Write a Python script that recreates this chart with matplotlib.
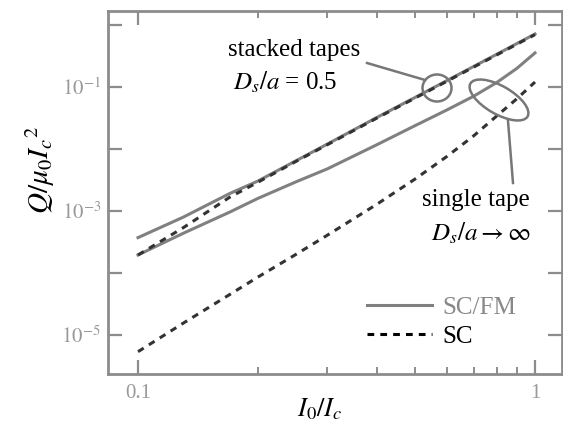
import numpy as np
import matplotlib.pyplot as plt
from matplotlib.patches import Ellipse
from matplotlib.lines import Line2D

plt.rcParams['font.family'] = ['Liberation Serif', 'DejaVu Serif']
plt.rcParams['mathtext.fontset'] = 'stix'

# I0/Ic values along the curves
x = [0.1, 0.13, 0.17, 0.2, 0.25, 0.3, 0.4, 0.5, 0.6, 0.7, 0.8, 0.9, 1.0]

# Q/mu0 Ic^2 (log10 values)
stack_scfm_log = [-3.43, -3.10, -2.72, -2.52, -2.19, -1.92, -1.49, -1.165, -0.897, -0.67, -0.474, -0.30, -0.145]
stack_sc_log = [-3.71, -3.27, -2.78, -2.54, -2.20, -1.93, -1.50, -1.175, -0.907, -0.68, -0.484, -0.31, -0.155]
single_scfm_log = [-3.71, -3.36, -3.02, -2.80, -2.53, -2.32, -1.93, -1.62, -1.37, -1.15, -0.93, -0.70, -0.45]
single_sc_log = [-5.27, -4.81, -4.35, -4.07, -3.70, -3.39, -2.89, -2.48, -2.12, -1.79, -1.47, -1.19, -0.92]

ytick_vals = [1e-5, 1e-4, 1e-3, 1e-2, 1e-1, 1e0]
ytick_labels = ['$10^{-5}$', '', '$10^{-3}$', '', '$10^{-1}$', '']
xtick_vals = [0.1, 1]
xtick_labels = ['0.1', '1']

W, H = 563, 425
fig = plt.figure(figsize=(W / 100, H / 100), dpi=100)
ax = fig.add_axes([108 / W, 51 / H, 454 / W, 363 / H])

solid_col = '#808080'
dash_col = '#333333'

ax.plot(x, 10 ** np.array(stack_scfm_log), color=solid_col, lw=2.2, label='SC/FM')
ax.plot(x, 10 ** np.array(single_scfm_log), color=solid_col, lw=2.2)
ax.plot(x, 10 ** np.array(stack_sc_log), color=dash_col, lw=2.2, dashes=(2.2, 2.0), label='SC')
ax.plot(x, 10 ** np.array(single_sc_log), color=dash_col, lw=2.2, dashes=(2.2, 2.0))

ax.set_xscale('log')
ax.set_yscale('log')
ax.set_xlim(10 ** -1.0756, 10 ** 0.068)
ax.set_ylim(10 ** -5.63, 10 ** 0.226)

ax.set_yticks(ytick_vals)
ax.set_yticklabels(ytick_labels)
ax.set_xticks(xtick_vals)
ax.set_xticklabels(xtick_labels)
ax.set_xticks([0.2, 0.3, 0.4, 0.5, 0.6, 0.7, 0.8, 0.9], minor=True)
ax.set_yticks([], minor=True)

ax.tick_params(which='both', direction='in', top=True, right=True,
               color='#8c8c8c', labelcolor='#999999', labelsize=15)
ax.tick_params(which='major', length=10, width=1.6)
ax.tick_params(which='minor', length=5, width=1.4)
ax.tick_params(axis='x', pad=7)
ax.tick_params(axis='y', pad=5)

for sp in ax.spines.values():
    sp.set_color('#8c8c8c')
    sp.set_linewidth(2)

ax.set_xlabel('$I_0/I_c$', fontsize=19, va='center')
ax.xaxis.set_label_coords((320 - 108) / 454, -(409 - 374) / 363)
ax.set_ylabel('$Q/\\mu_0 I_c{}^2$', fontsize=21, va='center')
ax.yaxis.set_label_coords((40 - 108) / 454, (374 - 170) / 363)


def px(xp, yp):
    return (xp / 100, (H - yp) / 100)


tr = fig.dpi_scale_trans

# stacked tapes annotation
fig.text(228 / W, 1 - 50 / H, 'stacked tapes', fontsize=18, va='center', ha='left')
fig.text(233 / W, 1 - 82 / H, '$D_s/a$ = 0.5', fontsize=18, va='center', ha='left')
p1, p2 = px(367, 63), px(425, 80)
fig.add_artist(Line2D([p1[0], p2[0]], [p1[1], p2[1]], transform=tr, color='#777777', lw=1.8))
c = px(437, 88)
fig.add_artist(Ellipse(c, 0.29, 0.27, transform=tr, fill=False, ec='#777777', lw=1.8))

# single tape annotation
fig.text(530 / W, 1 - 200 / H, 'single tape', fontsize=18, va='center', ha='right')
fig.text(530 / W, 1 - 233 / H, '$D_s/a \\rightarrow \\infty$', fontsize=18, va='center', ha='right')
e = px(499, 100)
fig.add_artist(Ellipse(e, 0.66, 0.28, angle=-30, transform=tr, fill=False, ec='#777777', lw=1.8))
q1, q2 = px(508, 121), px(513, 183)
fig.add_artist(Line2D([q1[0], q2[0]], [q1[1], q2[1]], transform=tr, color='#777777', lw=1.8))

leg = ax.legend(loc='center left', bbox_to_anchor=((367 - 108) / 454, (374 - 322) / 363),
                frameon=False, fontsize=18, handlelength=2.6, handletextpad=0.4,
                labelspacing=0.25, borderpad=0, borderaxespad=0)
leg.get_texts()[0].set_color('#888888')
leg.get_texts()[1].set_color('black')
leg.get_lines()[1].set_color('black')

fig.savefig('out.png', dpi=100)
